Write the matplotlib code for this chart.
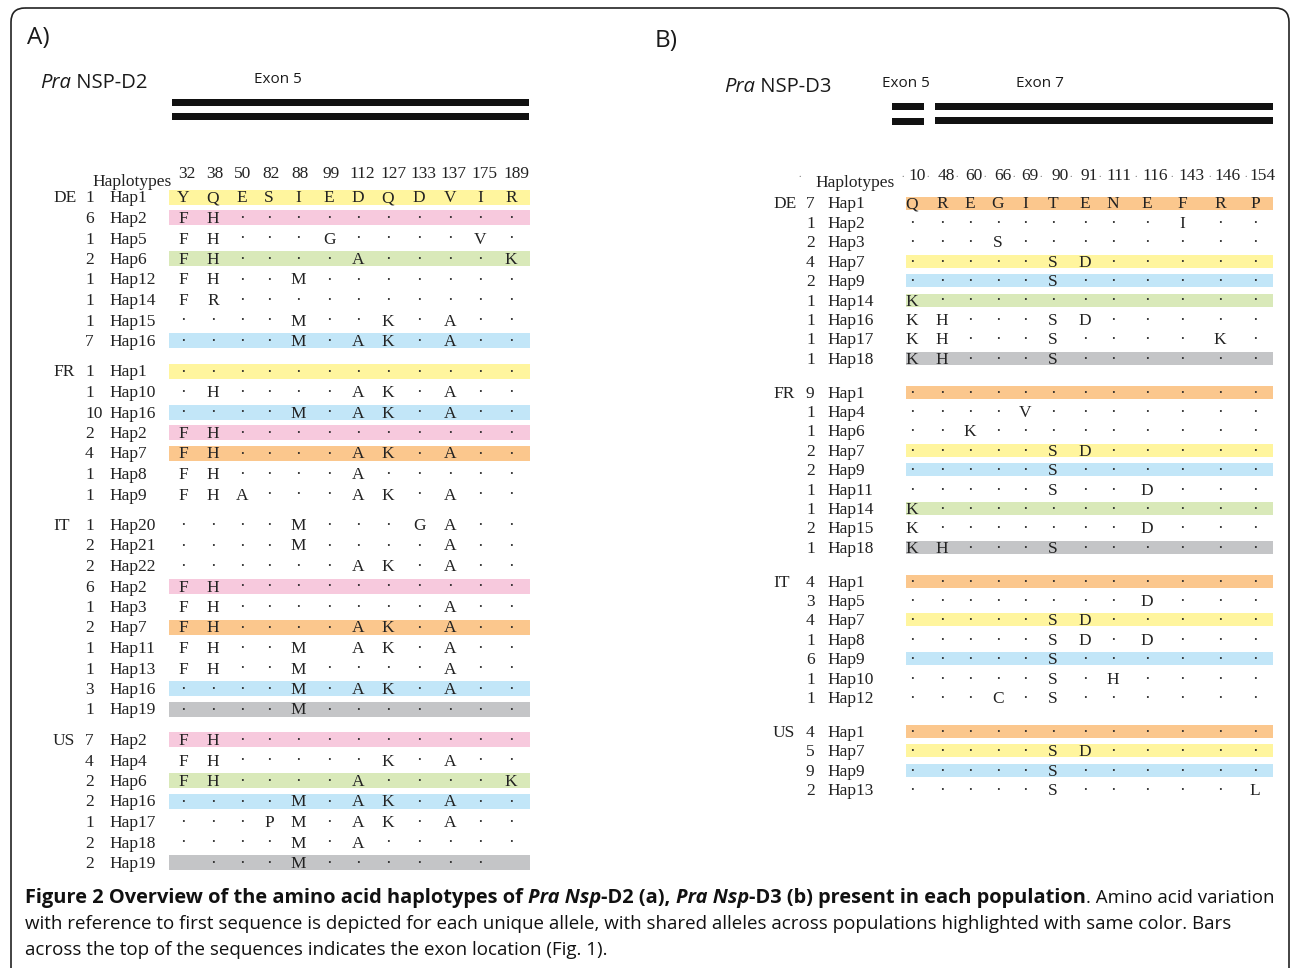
import matplotlib
matplotlib.use("Agg")
import matplotlib.pyplot as plt
from matplotlib.patches import FancyBboxPatch, Rectangle

# ---------------- data: panel A, Pra NSP-D2 ----------------
d2_sites = ['32', '38', '50', '82', '88', '99', '112', '127', '133', '137', '175', '189']
d2_pops = ['DE', 'FR', 'IT', 'US']
d2_counts = [
    [1, 6, 1, 2, 1, 1, 1, 7],
    [1, 1, 10, 2, 4, 1, 1],
    [1, 2, 2, 6, 1, 2, 1, 1, 3, 1],
    [7, 4, 2, 2, 1, 2, 2],
]
d2_haps = [
    ['Hap1', 'Hap2', 'Hap5', 'Hap6', 'Hap12', 'Hap14', 'Hap15', 'Hap16'],
    ['Hap1', 'Hap10', 'Hap16', 'Hap2', 'Hap7', 'Hap8', 'Hap9'],
    ['Hap20', 'Hap21', 'Hap22', 'Hap2', 'Hap3', 'Hap7', 'Hap11', 'Hap13', 'Hap16', 'Hap19'],
    ['Hap2', 'Hap4', 'Hap6', 'Hap16', 'Hap17', 'Hap18', 'Hap19'],
]
# '.' = same as reference, ' ' = left blank in the original
d2_seqs = [
    ['YQESIEDQDVIR', 'FH..........', 'FH...G....V.', 'FH....A....K',
     'FH..M.......', 'FR..........', '....M..K.A..', '....M.AK.A..'],
    ['............', '.H....AK.A..', '....M.AK.A..', 'FH..........',
     'FH....AK.A..', 'FH....A.....', 'FHA...AK.A..'],
    ['....M...GA..', '....M....A..', '......AK.A..', 'FH..........',
     'FH.......A..', 'FH....AK.A..', 'FH..M AK.A..', 'FH..M....A..',
     '....M.AK.A..', '....M.......'],
    ['FH..........', 'FH.....K.A..', 'FH....A....K', '....M.AK.A..',
     '...PM.AK.A..', '....M.A.....', ' ...M...... '],
]
d2_shared = [
    ['yellow', 'pink', '', 'green', '', '', '', 'blue'],
    ['yellow', '', 'blue', 'pink', 'orange', '', ''],
    ['', '', '', 'pink', '', 'orange', '', '', 'blue', 'grey'],
    ['pink', '', 'green', 'blue', '', '', 'grey'],
]

# ---------------- data: panel B, Pra NSP-D3 ----------------
d3_sites = ['10', '48', '60', '66', '69', '90', '91', '111', '116', '143', '146', '154']
d3_pops = ['DE', 'FR', 'IT', 'US']
d3_counts = [
    [7, 1, 2, 4, 2, 1, 1, 1, 1],
    [9, 1, 1, 2, 2, 1, 1, 2, 1],
    [4, 3, 4, 1, 6, 1, 1],
    [4, 5, 9, 2],
]
d3_haps = [
    ['Hap1', 'Hap2', 'Hap3', 'Hap7', 'Hap9', 'Hap14', 'Hap16', 'Hap17', 'Hap18'],
    ['Hap1', 'Hap4', 'Hap6', 'Hap7', 'Hap9', 'Hap11', 'Hap14', 'Hap15', 'Hap18'],
    ['Hap1', 'Hap5', 'Hap7', 'Hap8', 'Hap9', 'Hap10', 'Hap12'],
    ['Hap1', 'Hap7', 'Hap9', 'Hap13'],
]
d3_seqs = [
    ['QREGITENEFRP', '.........I..', '...S........', '.....SD.....',
     '.....S......', 'K...........', 'KH...SD.....', 'KH...S....K.',
     'KH...S......'],
    ['............', '....V.......', '..K.........', '.....SD.....',
     '.....S......', '.....S..D...', 'K...........', 'K.......D...',
     'KH...S......'],
    ['............', '........D...', '.....SD.....', '.....SD.D...',
     '.....S......', '.....S.H....', '...C.S......'],
    ['............', '.....SD.....', '.....S......', '.....S.....L'],
]
d3_shared = [
    ['orange', '', '', 'yellow', 'blue', 'green', '', '', 'grey'],
    ['orange', '', '', 'yellow', 'blue', '', 'green', '', 'grey'],
    ['orange', '', 'yellow', '', 'blue', '', ''],
    ['orange', 'yellow', 'blue', ''],
]

shade_colors = {
    'yellow': '#fff59e', 'pink': '#f7c9dd', 'green': '#d9e9b9',
    'blue': '#c2e6f8', 'orange': '#fbc78d', 'grey': '#c4c5c7',
}

caption_lines = [
    [("Figure 2 Overview of the amino acid haplotypes of ", 'bold', 'normal'),
     ("Pra Nsp", 'bold', 'italic'),
     ("-D2 (a), ", 'bold', 'normal'),
     ("Pra Nsp", 'bold', 'italic'),
     ("-D3 (b) present in each population", 'bold', 'normal'),
     (". Amino acid variation", 'normal', 'normal')],
    [("with reference to first sequence is depicted for each unique allele, "
      "with shared alleles across populations highlighted with same color. Bars", 'normal', 'normal')],
    [("across the top of the sequences indicates the exon location (Fig. 1).", 'normal', 'normal')],
]

SERIF = 'Liberation Serif'
SANS = 'Open Sans'

fig = plt.figure(figsize=(12.92, 9.68), dpi=100)
ax = fig.add_axes([0, 0, 1, 1])
ax.set_xlim(0, 1292)
ax.set_ylim(968, 0)
ax.axis('off')
fig.canvas.draw()
renderer = fig.canvas.get_renderer()


def text_width(s, **props):
    # width including trailing blanks: measure against a bar glyph
    t1 = ax.text(0, 0, s + '|', **props)
    t2 = ax.text(0, 0, '|', **props)
    w = t1.get_window_extent(renderer).width - t2.get_window_extent(renderer).width
    t1.remove()
    t2.remove()
    return w


def put_runs(x, y, parts, size, family, bold_scale=1.0, color='#1a1a1a'):
    for s, weight, style in parts:
        fs = size * bold_scale if weight == 'bold' else size
        props = dict(fontsize=fs, family=family, fontweight=weight, fontstyle=style)
        ax.text(x, y, s, ha='left', va='baseline', color=color, **props)
        x += text_width(s, **props)
    return x


def draw_table(pops, counts, haps, seqs, shared, sites, lay):
    fs = 12.5
    for sx, lab in zip(lay['head_x'], sites):
        ax.text(sx, lay['head_base'], lab, ha='center', va='baseline',
                family=SERIF, fontsize=fs, color='#222')
    for dx in lay['head_dots']:
        ax.text(dx, lay['head_base'] - 3, '.', ha='center', va='baseline',
                family=SERIF, fontsize=7, color='#666')
    ax.text(lay['hapl'][0], lay['hapl'][1], 'Haplotypes', ha='left', va='baseline',
            family=SERIF, fontsize=fs, color='#222')
    y = lay['y0']
    for p, pop in enumerate(pops):
        for r in range(len(haps[p])):
            if r == 0:
                ax.text(lay['pop_x'], y + 5.5, pop, ha='left', va='baseline',
                        family=SERIF, fontsize=fs, color='#222')
            col = shared[p][r]
            if col:
                ax.add_patch(Rectangle((lay['band'][0], y - lay['band_h'] / 2),
                                       lay['band'][1] - lay['band'][0], lay['band_h'],
                                       facecolor=shade_colors[col], edgecolor='none', zorder=0))
            ax.text(lay['count_x'], y + 5.5, str(counts[p][r]), ha='left', va='baseline',
                    family=SERIF, fontsize=fs, color='#222')
            ax.text(lay['hap_x'], y + 5.5, haps[p][r], ha='left', va='baseline',
                    family=SERIF, fontsize=fs, color='#222')
            for cx, ch in zip(lay['col_x'], seqs[p][r]):
                if ch == ' ':
                    continue
                ax.text(cx, y + 5.5, '\u00b7' if ch == '.' else ch, ha='center',
                        va='baseline', family=SERIF, fontsize=fs, color='#222')
            y += lay['step']
        y += lay['gap']


lay_a = dict(
    col_x=[183, 213, 242, 269, 298, 329, 358, 388, 419, 450, 480, 511],
    head_x=[187, 215, 243, 271, 300, 331, 362, 394, 423, 453, 484, 516],
    head_dots=[], head_base=178, hapl=(92, 186),
    pop_x=53, count_x=85, hap_x=109,
    y0=197, step=20.5, gap=10, band=(169, 530), band_h=15,
)
lay_b = dict(
    col_x=[912, 942, 970, 998, 1025, 1053, 1085, 1113, 1147, 1182, 1220, 1255],
    head_x=[917, 946, 974, 1003, 1030, 1060, 1089, 1119, 1155, 1192, 1228, 1263],
    head_dots=[800, 903, 928, 957, 985, 1014, 1041, 1071, 1100, 1136, 1172, 1210, 1246],
    head_base=180, hapl=(815, 187),
    pop_x=773, count_x=806, hap_x=827,
    y0=203, step=19.4, gap=14.5, band=(906, 1273), band_h=13,
)

draw_table(d2_pops, d2_counts, d2_haps, d2_seqs, d2_shared, d2_sites, lay_a)
draw_table(d3_pops, d3_counts, d3_haps, d3_seqs, d3_shared, d3_sites, lay_b)

# panel headers and exon bars
ax.text(27, 44, 'A)', family=SANS, fontsize=17.5, ha='left', va='baseline', color='#1a1a1a')
ax.text(655, 47, 'B)', family=SANS, fontsize=17.5, ha='left', va='baseline', color='#1a1a1a')
put_runs(40, 88, [('Pra', 'normal', 'italic'), (' NSP-D2', 'normal', 'normal')], 14.6, SANS)
put_runs(724, 92, [('Pra', 'normal', 'italic'), (' NSP-D3', 'normal', 'normal')], 14.6, SANS)
ax.text(278, 83, 'Exon 5', family=SANS, fontsize=11, ha='center', va='baseline', color='#1a1a1a')
ax.text(906, 87, 'Exon 5', family=SANS, fontsize=11, ha='center', va='baseline', color='#1a1a1a')
ax.text(1040, 87, 'Exon 7', family=SANS, fontsize=11, ha='center', va='baseline', color='#1a1a1a')
for x0, x1, y0 in [(172, 529, 99), (172, 529, 113), (892, 924, 103), (892, 924, 118),
                   (935, 1273, 103), (935, 1273, 117)]:
    ax.add_patch(Rectangle((x0, y0), x1 - x0, 6.5, facecolor='#111', edgecolor='none'))

# outer rounded frame
ax.add_patch(FancyBboxPatch((11, 8), 1278, 1100, boxstyle='round,pad=0,rounding_size=14',
                            fill=False, edgecolor='#222', linewidth=1.2))

# caption: regular size fitted to line 2, bold runs stretched so line 1 fills its width
w12 = text_width(caption_lines[1][0][0], fontsize=12, family=SANS)
cap_fs = 12 * 1201 / w12
bold_w = sum(text_width(s, fontsize=cap_fs, family=SANS, fontweight=wt, fontstyle=st)
             for s, wt, st in caption_lines[0] if wt == 'bold')
norm_w = sum(text_width(s, fontsize=cap_fs, family=SANS, fontweight=wt, fontstyle=st)
             for s, wt, st in caption_lines[0] if wt != 'bold')
bold_scale = (1253 - norm_w) / bold_w
for parts, base in zip(caption_lines, [903, 929, 955]):
    put_runs(25, base, parts, cap_fs, SANS, bold_scale=bold_scale, color='#111')

fig.savefig('out.png', dpi=100)
